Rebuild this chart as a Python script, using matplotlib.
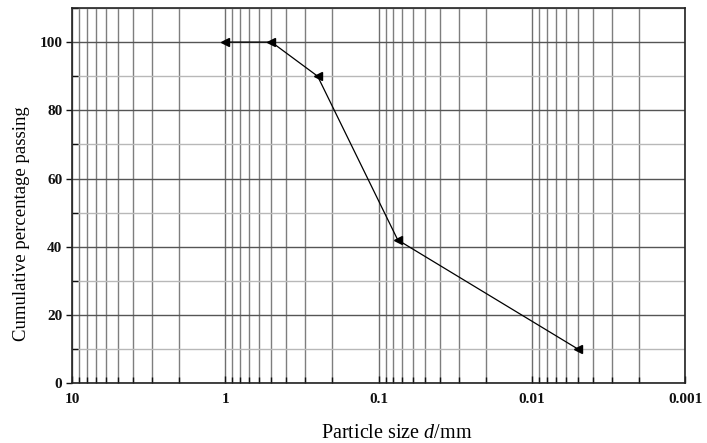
import matplotlib
matplotlib.use("Agg")
import matplotlib.pyplot as plt
from matplotlib.ticker import FixedLocator, FuncFormatter, MultipleLocator

# Grain-size distribution
particle_size_mm = [1.0, 0.5, 0.25, 0.075, 0.005]
percent_passing = [100, 100, 90, 42, 10]

x_major_ticks = [10, 1, 0.1, 0.01, 0.001]
y_major_ticks = [0, 20, 40, 60, 80, 100]

plt.rcParams["font.family"] = ["Liberation Serif", "DejaVu Serif"]
plt.rcParams["mathtext.fontset"] = "custom"
plt.rcParams["mathtext.it"] = "Liberation Serif:italic"
plt.rcParams["mathtext.rm"] = "Liberation Serif"

fig = plt.figure(figsize=(7.07, 4.43), dpi=100)
ax = fig.add_axes([0.102, 0.135, 0.867, 0.847])

ax.set_xscale("log")
ax.set_xlim(10, 0.001)
ax.set_ylim(0, 110)

# minor decade positions for the vertical grid
minor_x = []
for dec in [1, 0.1, 0.01, 0.001]:
    for m in range(2, 10):
        minor_x.append(dec * m)
ax.xaxis.set_major_locator(FixedLocator(x_major_ticks))
ax.xaxis.set_minor_locator(FixedLocator(minor_x))
ax.xaxis.set_major_formatter(FuncFormatter(lambda v, p: "%g" % v))
ax.xaxis.set_minor_formatter(FuncFormatter(lambda v, p: ""))

ax.yaxis.set_major_locator(FixedLocator(y_major_ticks))
ax.yaxis.set_minor_locator(MultipleLocator(10))

ax.grid(True, which="major", axis="x", color="#6e6e6e", lw=1.0)
ax.grid(True, which="minor", axis="x", color="#7e7e7e", lw=1.0)
ax.grid(True, which="major", axis="y", color="#555555", lw=1.0)
ax.grid(True, which="minor", axis="y", color="#b8b8b8", lw=1.0)
ax.set_axisbelow(True)

ax.plot(particle_size_mm, percent_passing, color="black", lw=0.9,
        marker="<", markersize=5.5, markerfacecolor="black",
        markeredgecolor="black", zorder=3)

for side in ["left", "bottom", "right", "top"]:
    ax.spines[side].set_color("#222222")
    ax.spines[side].set_linewidth(1.2)

ax.tick_params(axis="both", which="major", labelsize=11, direction="out",
               length=4, width=1, colors="#111111", pad=3)
ax.tick_params(axis="x", which="major", direction="in", length=5, pad=7)
ax.tick_params(axis="both", which="minor", direction="in", length=4, width=1,
               colors="#111111")
for lab in ax.get_xticklabels() + ax.get_yticklabels():
    lab.set_fontweight("bold")

ax.set_ylabel("Cumulative percentage passing", fontsize=13.5)
ax.yaxis.set_label_coords(-0.068, 0.425)
ax.set_xlabel("Particle size $d$/mm", fontsize=14.5)
ax.xaxis.set_label_coords(0.53, -0.108)

fig.savefig("out.png", dpi=100)
